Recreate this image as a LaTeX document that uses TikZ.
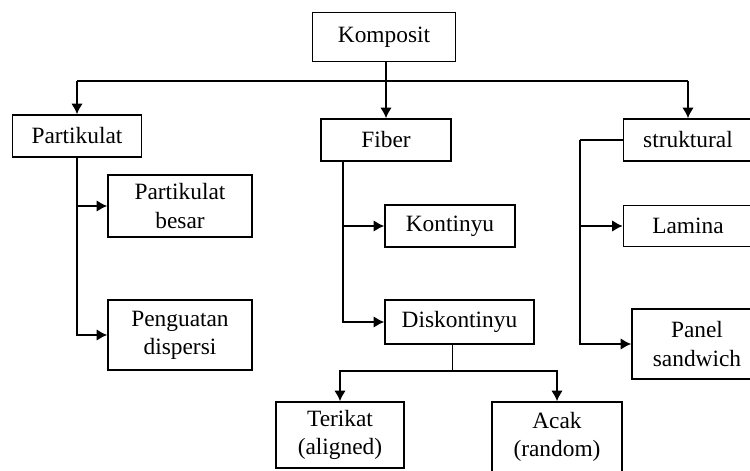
\documentclass[tikz,border=0pt]{standalone}
\usepackage{fontspec}
\setmainfont{Liberation Serif}
\usepackage{tikz}
\usetikzlibrary{arrows.meta,positioning,calc}

\begin{document}
\begin{tikzpicture}[
    x=0.02cm, y=-0.02cm,
    box/.style={rectangle, draw, line width=0.9pt, align=center, font=\fontsize{13.3}{16}\selectfont, inner sep=2pt},
    arrow/.style={-{Latex[length=6pt,width=6.5pt]}, line width=0.9pt},
    line/.style={line width=0.9pt}
]

% Frame
\useasboundingbox (0,0) rectangle (750,470);
\clip (0,0) rectangle (750,470);

% Top
\node[box, minimum width=2.86cm, minimum height=0.98cm] (komposit) at (384,37) {Komposit};

% Main groups
\node[box, minimum width=2.58cm, minimum height=0.84cm] (partikulat) at (77,136) {Partikulat};
\node[box, minimum width=2.6cm, minimum height=0.84cm] (fiber) at (386,140) {Fiber};
\node[box, minimum width=2.58cm, minimum height=0.84cm] (struktural) at (688,140) {struktural};

% Partikulat branch
\node[box, minimum width=2.88cm, minimum height=1.24cm] (besar) at (180,206) {Partikulat\\besar};
\node[box, minimum width=2.88cm, minimum height=1.4cm] (dispersi) at (180,335) {Penguatan\\dispersi};

% Fiber branch
\node[box, minimum width=2.6cm, minimum height=0.84cm] (kontinyu) at (450,226) {Kontinyu};
\node[box, minimum width=2.98cm, minimum height=0.88cm] (diskontinyu) at (459.5,322) {Diskontinyu};
\node[box, minimum width=2.56cm, minimum height=1.32cm] (terikat) at (340,435) {Terikat\\(aligned)};
\node[box, minimum width=2.6cm, minimum height=1.4cm] (acak) at (557,437) {Acak\\(random)};

% Struktural branch
\node[box, minimum width=2.58cm, minimum height=0.82cm] (lamina) at (688,226) {Lamina};
\node[box, minimum width=2.6cm, minimum height=1.4cm] (panel) at (697,344) {Panel\\sandwich};

% Bus from Komposit
\coordinate (bus) at (386,81);
\draw[line] (partikulat.north |- bus) -- (struktural.north |- bus);
\draw[arrow] (komposit.south -| fiber.north) -- (fiber.north);
\draw[arrow] (partikulat.north |- bus) -- (partikulat.north);
\draw[arrow] (struktural.north |- bus) -- (struktural.north);

% Partikulat children
\draw[arrow] (partikulat.south) |- (besar.west);
\draw[arrow] (partikulat.south) |- (dispersi.west);

% Fiber children
\coordinate (fibtap) at (343,161);
\draw[arrow] (fibtap) |- (kontinyu.west);
\draw[arrow] (fibtap) |- (diskontinyu.west);

% Diskontinyu children
\draw[line] ([xshift=-0.14cm]diskontinyu.south) -- ++(0,26) coordinate (dktap);
\draw[arrow] (dktap) -| (terikat.north);
\draw[arrow] (dktap) -| (acak.north);

% Struktural children
\draw[line] (struktural.west) -- ++(-43,0) coordinate (sttap);
\draw[arrow] (sttap) |- (lamina.west);
\draw[arrow] (sttap) |- (panel.west);

\end{tikzpicture}
\end{document}
